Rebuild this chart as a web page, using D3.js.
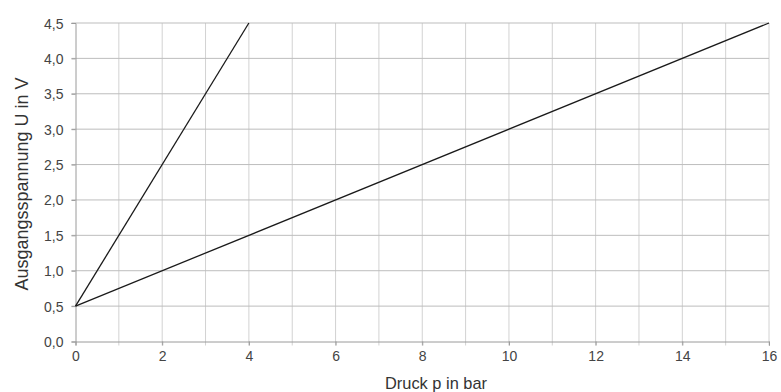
<!DOCTYPE html>
<html><head><meta charset="utf-8">
<script src="https://cdn.jsdelivr.net/npm/d3@7"></script>
<style>body{margin:0;background:#fff}text{font-family:"Liberation Sans",Arial,sans-serif}</style>
</head><body><svg id="c" width="781" height="392"></svg>
<script>
const xTicks = [0,2,4,6,8,10,12,14,16];
const yTicks = [0,0.5,1,1.5,2,2.5,3,3.5,4,4.5];
const seriesA = [{p:0,u:0.5},{p:4,u:4.5}];
const seriesB = [{p:0,u:0.5},{p:16,u:4.5}];
const xLabel = "Druck p in bar";
const yLabel = "Ausgangsspannung U in V";

const svg = d3.select("#c");
const x = d3.scaleLinear().domain([0,16]).range([75.5,769]);
const y = d3.scaleLinear().domain([0,4.5]).range([341.5,23]);
const fmt = v => d3.format(".1f")(v).replace(".", ",");

// vertical grid
svg.append("g").selectAll("line").data(d3.range(1,17)).join("line")
  .attr("x1",d=>x(d)).attr("x2",d=>x(d)).attr("y1",y(4.5)).attr("y2",y(0)+4)
  .attr("stroke","#d2d2d2").attr("stroke-width",1);
// horizontal grid
svg.append("g").selectAll("line").data(yTicks.slice(1)).join("line")
  .attr("x1",x(0)-4).attr("x2",x(16)).attr("y1",d=>y(d)).attr("y2",d=>y(d))
  .attr("stroke","#bdbdbd").attr("stroke-width",1);

// axes
const xa = svg.append("g").attr("transform",`translate(0,${y(0)})`)
  .call(d3.axisBottom(x).tickValues(xTicks).tickSize(4).tickPadding(6).tickFormat(d3.format("d")));
const ya = svg.append("g").attr("transform",`translate(${x(0)},0)`)
  .call(d3.axisLeft(y).tickValues(yTicks).tickSize(4).tickPadding(8).tickFormat(fmt));
[xa,ya].forEach(a=>{
  a.select(".domain").attr("stroke","#9a9a9a");
  a.selectAll(".tick line").attr("stroke","#9a9a9a");
  a.selectAll(".tick text").attr("fill","#444").style("font-size","14px").style("font-family","'Liberation Sans',Arial,sans-serif");
});
ya.selectAll(".tick text").attr("dy","0.36em");

// lines
const line = d3.line().x(d=>x(d.p)).y(d=>y(d.u));
[seriesA,seriesB].forEach(s=>{
  svg.append("path").datum(s).attr("d",line).attr("fill","none")
    .attr("stroke","#1a1a1a").attr("stroke-width",1.3);
});

// titles
svg.append("text").attr("x",436).attr("y",389).attr("text-anchor","middle")
  .attr("fill","#333").style("font-size","16.4px").text(xLabel);
svg.append("text").attr("transform",`translate(28,184) rotate(-90)`)
  .attr("text-anchor","middle").attr("fill","#333").style("font-size","18px").text(yLabel);
</script></body></html>
